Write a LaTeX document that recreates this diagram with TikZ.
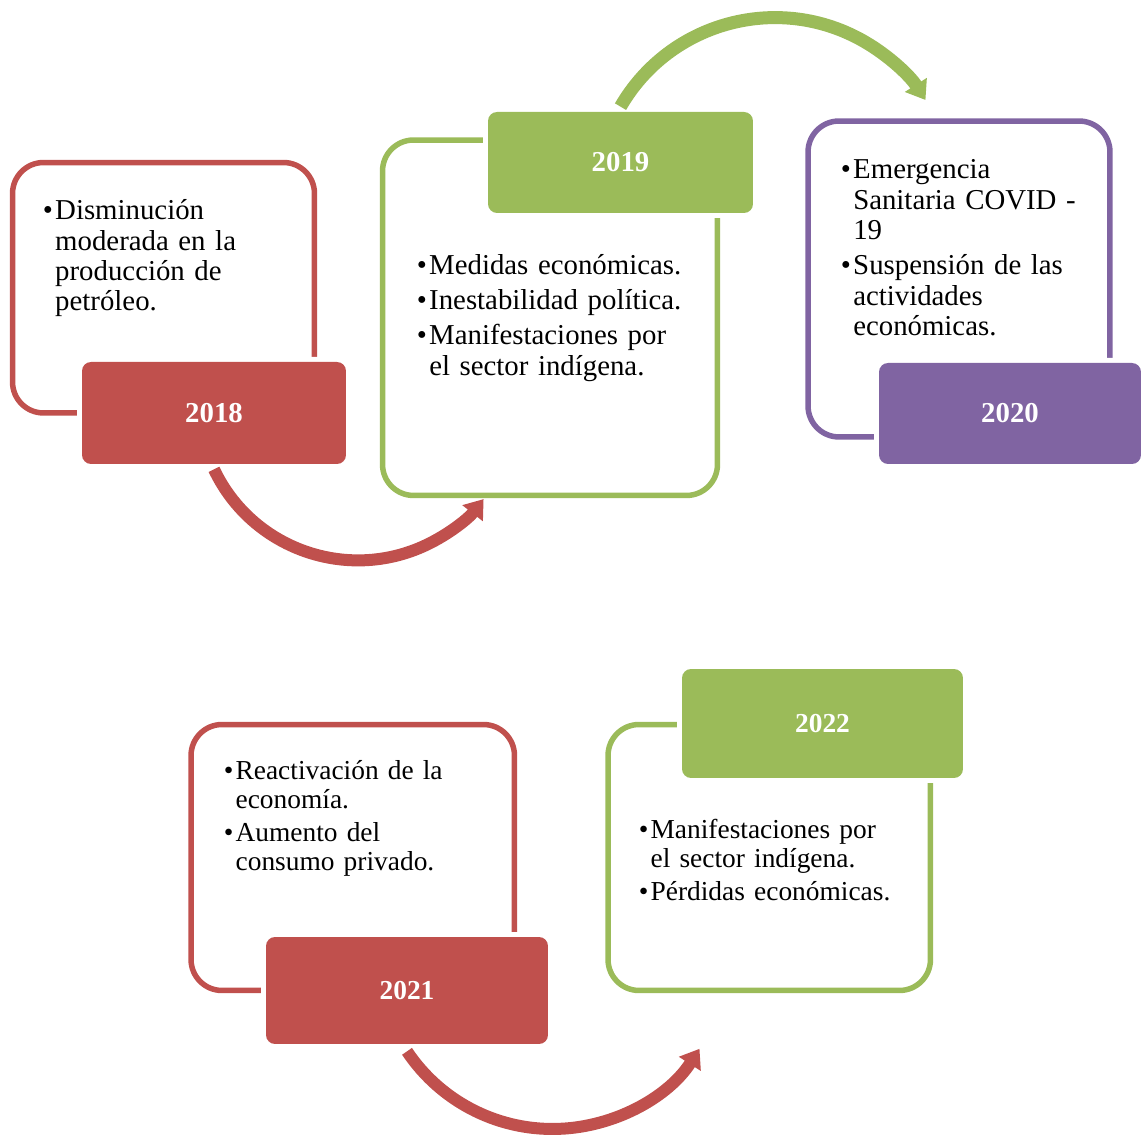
\documentclass[tikz,border=0pt]{standalone}
\usepackage{fontspec}
\setmainfont{Liberation Serif}
\usetikzlibrary{arrows.meta}

\definecolor{rojo}{HTML}{C0504D}
\definecolor{verde}{HTML}{9BBB59}
\definecolor{morado}{HTML}{8064A2}

\newcommand{\itm}[1]{\par\hangindent=0.43em\hangafter=1\noindent\strut\makebox[0.43em][l]{\textbullet}#1\par}

\begin{document}
\begin{tikzpicture}[x=0.02cm, y=0.02cm,
    marco/.style={draw=#1, line width=0.11cm, rounded corners=0.62cm},
    etiq/.style={fill=#1, rounded corners=0.18cm, preaction={draw=white, line width=0.2cm}, text=white, inner sep=0pt},
    anio/.style={font=\bfseries\fontsize{16.4}{17.3}\selectfont},
    anio2/.style={font=\bfseries\fontsize{15.6}{16.4}\selectfont},
    texto/.style={anchor=north west, inner sep=0pt, text width=7cm, align=left,
        font=\fontsize{16.4}{17.3}\selectfont, execute at begin node=\setlength{\parskip}{2.8pt}},
    texto2/.style={texto, font=\fontsize{15.6}{16.4}\selectfont, execute at begin node=\setlength{\parskip}{2.3pt}},
    flecha/.style={draw=#1, line width=0.24cm, -{Triangle[length=10.2pt, width=14.2pt]}}]
  \useasboundingbox (0,0) rectangle (1141,1135);

  % marcos
  \node[marco=rojo, minimum width=6.04cm, minimum height=5.01cm] (m18) at (163.5,847.25) {};
  \node[marco=verde, minimum width=6.7cm, minimum height=7.11cm] (m19) at (550,817.25) {};
  \node[marco=morado, minimum width=6.04cm, minimum height=6.32cm] (m20) at (959,856) {};
  \node[marco=rojo, minimum width=6.47cm, minimum height=5.32cm] (m21) at (352.75,277.5) {};
  \node[marco=verde, minimum width=6.45cm, minimum height=5.32cm] (m22) at (769.25,277.5) {};

  % etiquetas
  \node[etiq=rojo, anio, minimum width=5.28cm, minimum height=2.04cm] (e18) at (214,722) {2018};
  \node[etiq=verde, anio, minimum width=5.3cm, minimum height=2.02cm] (e19) at (620.5,972.5) {2019};
  \node[etiq=morado, anio, minimum width=5.24cm, minimum height=2.02cm] (e20) at (1010,721.5) {2020};
  \node[etiq=rojo, anio2, minimum width=5.64cm, minimum height=2.14cm] (e21) at (407,144.5) {2021};
  \node[etiq=verde, anio2, minimum width=5.62cm, minimum height=2.18cm] (e22) at (822.5,411.5) {2022};

  % textos
  \node[texto] (t18) at (42.5,951) {\itm{Disminución\newline moderada en la\newline producción de\newline petróleo.}};
  \node[texto] (t19) at (416.5,896.5) {\itm{Medidas económicas.}\itm{Inestabilidad política.}\itm{Manifestaciones por\newline el sector indígena.}};
  \node[texto] (t20) at (840.5,992) {\itm{Emergencia\newline Sanitaria COVID -\newline 19}\itm{Suspensión de las\newline actividades\newline económicas.}};
  \node[texto2] (t21) at (223.5,388.3) {\itm{Reactivación de la\newline economía.}\itm{Aumento del\newline consumo privado.}};
  \node[texto2] (t22) at (638.5,329.5) {\itm{Manifestaciones por\newline el sector indígena.}\itm{Pérdidas económicas.}};

  % flechas
  \draw[flecha=rojo] ([yshift=-0.1cm]e18.south) arc[start angle=205.4, end angle=322, radius=159.4];
  \draw[flecha=verde, line width=0.26cm] ([yshift=0.1cm]e19.north) arc[start angle=149.9, end angle=32.6, radius=178.6];
  \draw[flecha=rojo] ([yshift=-0.14cm]e21.south) arc[start angle=213.8, end angle=327.2, radius=175];
\end{tikzpicture}
\end{document}
